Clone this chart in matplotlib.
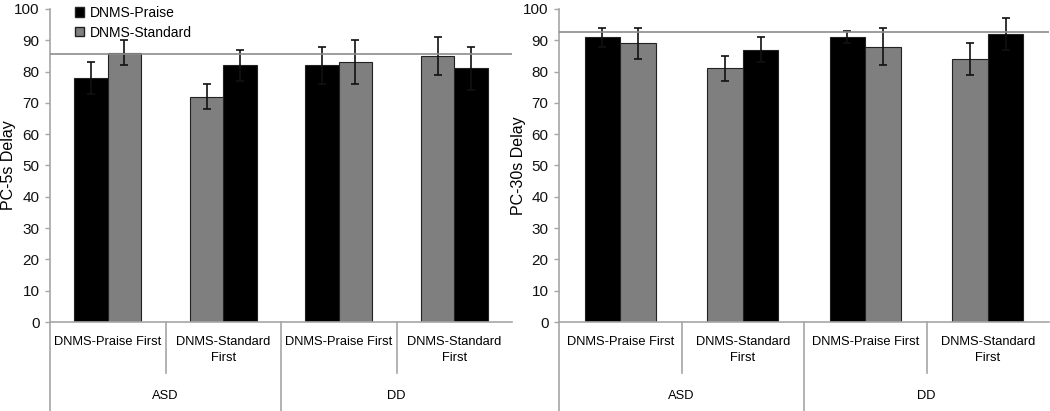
import matplotlib.pyplot as plt
from matplotlib.patches import Patch
import matplotlib.transforms as mtransforms

# Data
categories = ["DNMS-Praise First", "DNMS-Standard\nFirst", "DNMS-Praise First", "DNMS-Standard\nFirst"]
groups = ["ASD", "DD"]
praise_first = [True, False, True, False]

praise_5s = [78, 82, 82, 81]
praise_5s_err = [5, 5, 6, 7]
standard_5s = [86, 72, 83, 85]
standard_5s_err = [4, 4, 7, 6]
ref_5s = 85.5

praise_30s = [91, 87, 91, 92]
praise_30s_err = [3, 4, 2, 5]
standard_30s = [89, 81, 88, 84]
standard_30s_err = [5, 4, 6, 5]
ref_30s = 92.5

W, H = 1050, 411
fig = plt.figure(figsize=(W / 100, H / 100), dpi=100)
plt.rcParams['font.family'] = ['Liberation Sans', 'DejaVu Sans']

axis_col = "#a6a6a6"
black = "#000000"
gray = "#7f7f7f"
bw = 0.29


def panel(rect, praise, praise_err, standard, standard_err, ref, ylabel, label_x, legend=False):
    ax = fig.add_axes(rect)
    for i in range(len(categories)):
        if praise_first[i]:
            xp, xs = i - bw / 2, i + bw / 2
        else:
            xs, xp = i - bw / 2, i + bw / 2
        ax.bar(xp, praise[i], bw, color=black, edgecolor="#222222", lw=0.8, zorder=2)
        ax.bar(xs, standard[i], bw, color=gray, edgecolor="#222222", lw=0.8, zorder=2)
        ax.errorbar(xp, praise[i], yerr=praise_err[i], fmt="none", ecolor="#111111",
                    elinewidth=1.2, capsize=3, capthick=1.2, zorder=3)
        ax.errorbar(xs, standard[i], yerr=standard_err[i], fmt="none", ecolor="#111111",
                    elinewidth=1.2, capsize=3, capthick=1.2, zorder=3)
    ax.axhline(ref, color="#8c8c8c", lw=1.2, zorder=4)
    ax.set_xlim(-0.5, len(categories) - 0.5)
    ax.set_ylim(0, 100)
    ax.set_yticks(range(0, 101, 10))
    ax.tick_params(axis="y", length=3.6, width=1, color=axis_col, labelsize=11,
                   pad=4, labelcolor="#111111")
    ax.set_xticks([])
    for s in ["top", "right"]:
        ax.spines[s].set_visible(False)
    for s in ["left", "bottom"]:
        ax.spines[s].set_color(axis_col)
        ax.spines[s].set_linewidth(1.2)
    ax.set_ylabel(ylabel, fontsize=11.5, va="center")
    ax.yaxis.set_label_coords(label_x, 0.5)

    trans = mtransforms.blended_transform_factory(ax.transData, ax.transAxes)
    for i, lab in enumerate(categories):
        ax.text(i, -0.045, lab, transform=trans, ha="center", va="top",
                fontsize=9.3, linespacing=1.45)
    # category dividers
    for k in range(1, len(categories)):
        low = -0.3 if k % 2 == 0 else -0.163
        ax.plot([k - 0.5, k - 0.5], [0, low], transform=trans, color=axis_col,
                lw=1.2, clip_on=False)
    ax.plot([-0.5, -0.5], [0, -0.3], transform=trans, color=axis_col, lw=1.2, clip_on=False)
    for g, name in enumerate(groups):
        ax.text(2 * g + 0.5, -0.235, name, transform=trans, ha="center", va="center",
                fontsize=9.3)

    if legend:
        handles = [Patch(facecolor=black, edgecolor="#222222", label="DNMS-Praise"),
                   Patch(facecolor=gray, edgecolor="#222222", label="DNMS-Standard")]
        ax.legend(handles=handles, loc="upper left", bbox_to_anchor=(0.042, 1.028),
                  frameon=False, fontsize=10, handlelength=0.65, handleheight=0.65,
                  handletextpad=0.4, labelspacing=0.42, borderaxespad=0)
    return ax


ax_top = (H - 9) / H
ax_bot = (H - 322) / H
panel([50 / W, ax_bot, 462 / W, ax_top - ax_bot], praise_5s, praise_5s_err,
      standard_5s, standard_5s_err, ref_5s, "PC-5s Delay", (9 - 50) / 462, legend=True)
panel([559 / W, ax_bot, 490 / W, ax_top - ax_bot], praise_30s, praise_30s_err,
      standard_30s, standard_30s_err, ref_30s, "PC-30s Delay", (519 - 559) / 490)

fig.savefig("out.png", dpi=100)
